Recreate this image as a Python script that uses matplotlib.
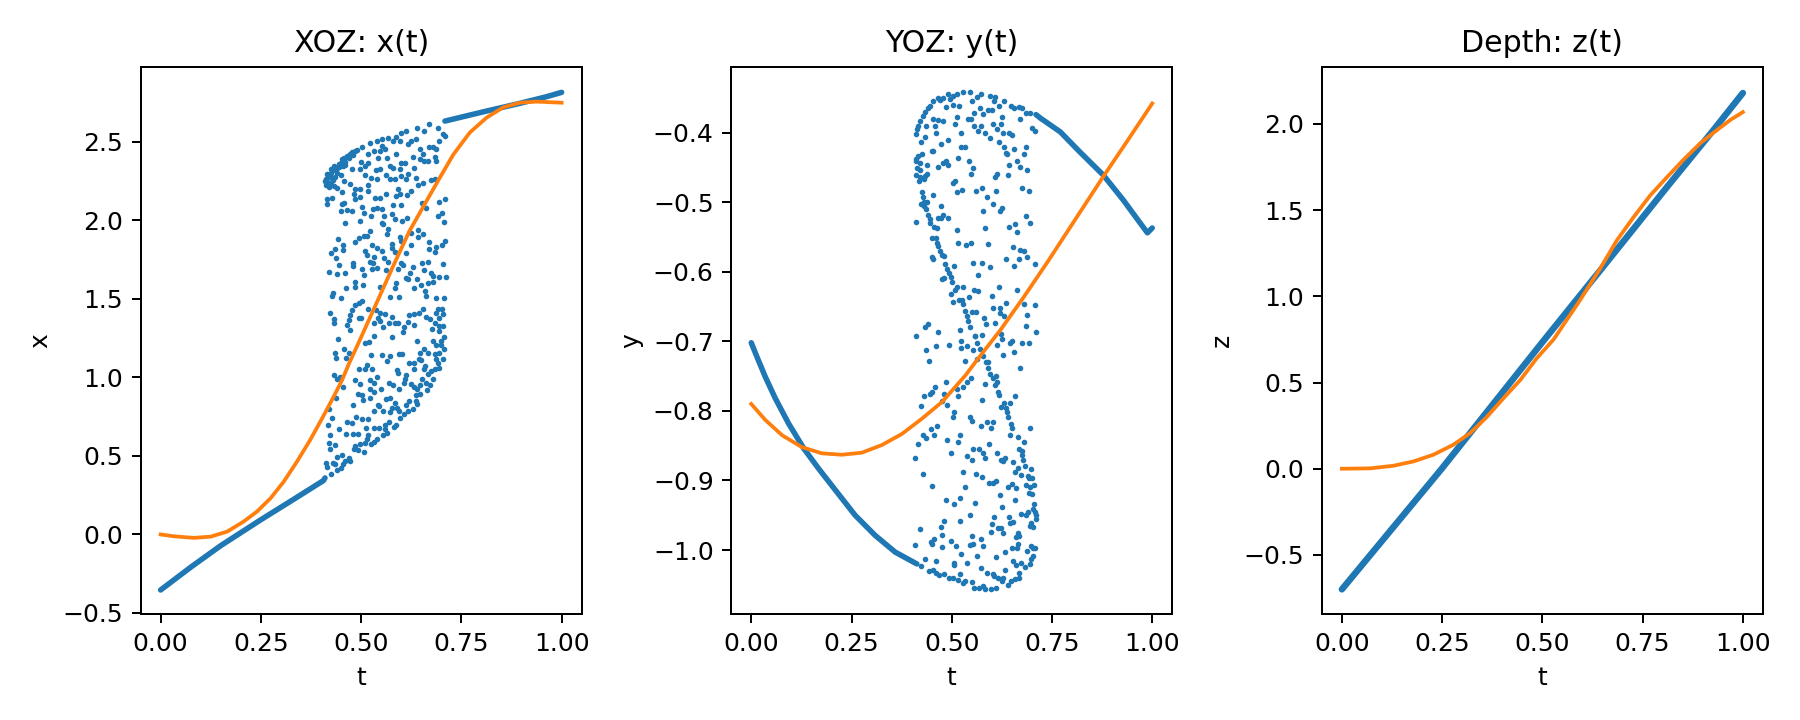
import matplotlib
matplotlib.use('Agg')
import matplotlib.pyplot as plt

# scattered part of the x(t) panel as (t, x)
xoz_pts = [
(.412,2.261),(.416,2.293),(.424,2.325),(.432,2.346),(.444,2.357),(.453,2.389),(.465,2.410),(.477,2.436),(.485,2.442),
(.502,2.467),(.522,2.495),(.539,2.506),(.551,2.520),(.568,2.527),(.588,2.533),(.600,2.559),(.613,2.569),(.639,2.591),
(.658,2.569),(.670,2.612),(.691,2.591),(.703,2.548),(.710,2.537),(.695,2.506),(.637,2.520),(.625,2.506),(.617,2.484),
(.596,2.506),(.580,2.506),(.551,2.474),(.547,2.442),(.559,2.453),(.531,2.442),(.518,2.421),(.473,2.421),(.457,2.399),
(.449,2.368),(.440,2.336),(.428,2.272),(.420,2.240),(.432,2.219),(.440,2.208),(.414,2.134),(.416,2.102),(.428,2.145),
(.453,2.181),(.473,2.230),(.485,2.198),(.498,2.202),(.518,2.223),(.518,2.187),(.481,2.166),(.498,2.149),(.485,2.138),
(.457,2.113),(.453,2.102),(.449,2.060),(.465,2.066),(.477,2.060),(.461,1.981),(.502,2.087),(.506,2.045),(.524,2.028),
(.529,2.075),(.540,2.081),(.551,2.070),(.547,2.140),(.563,2.170),(.535,2.145),(.588,2.155),(.596,2.170),(.592,2.198),
(.614,2.160),(.625,2.187),(.641,2.223),(.654,2.236),(.674,2.255),(.685,2.261),(.580,2.100),(.600,2.100),(.652,2.109),
(.662,2.081),(.695,2.119),(.710,2.138),(.691,2.028),(.701,2.045),(.706,1.992),(.496,1.998),(.557,2.028),(.576,2.039),
(.584,2.011),(.603,1.996),(.614,2.017),(.551,1.981),(.555,1.975),(.568,1.943),(.521,1.932),(.565,1.911),(.506,1.901),
(.514,1.901),(.494,1.890),(.485,1.864),(.442,1.884),(.435,1.820),(.454,1.841),(.454,1.811),(.425,1.794),(.437,1.763),
(.444,1.714),(.420,1.673),(.439,1.661),(.459,1.667),(.480,1.731),(.480,1.710),(.527,1.841),(.539,1.826),(.551,1.805),
(.510,1.805),(.514,1.777),(.531,1.769),(.522,1.737),(.529,1.731),(.557,1.763),(.568,1.737),(.539,1.699),(.527,1.688),
(.502,1.693),(.506,1.650),(.485,1.608),(.485,1.578),(.504,1.586),(.462,1.571),(.430,1.540),(.428,1.518),(.451,1.504),
(.576,1.847),(.578,1.826),(.584,1.799),(.596,1.896),(.599,1.869),(.625,1.841),(.611,1.790),(.625,1.922),(.641,1.939),
(.641,1.896),(.655,1.911),(.670,1.865),(.669,1.816),(.687,1.833),(.683,1.799),(.701,1.841),(.710,1.869),(.703,1.720),
(.666,1.737),(.652,1.731),(.629,1.705),(.658,1.682),(.621,1.663),(.600,1.731),(.605,1.714),(.592,1.688),(.563,1.682),
(.613,1.635),(.617,1.625),(.639,1.625),(.674,1.663),(.678,1.646),(.678,1.608),(.695,1.642),(.711,1.642),(.666,1.599),
(.650,1.586),(.631,1.567),(.588,1.603),(.584,1.571),(.547,1.578),(.572,1.514),(.595,1.512),(.660,1.550),(.662,1.518),
(.687,1.504),(.707,1.504),(.547,2.325),(.537,2.321),(.572,2.346),(.580,2.336),(.596,2.325),(.600,2.368),(.609,2.368),
(.629,2.406),(.633,2.336),(.655,2.421),(.647,2.393),(.658,2.378),(.666,2.378),(.685,2.406),(.687,2.378),(.646,2.457),
(.670,2.470),(.678,2.470),(.687,2.453),(.543,2.399),(.565,2.399),(.588,2.425),(.499,2.374),(.518,2.368),(.510,2.346),
(.498,2.325),(.477,2.325),(.461,2.351),(.449,2.287),(.457,2.251),(.510,2.287),(.524,2.272),(.540,2.261),(.561,2.287),
(.572,2.266),(.584,2.261),(.600,2.283),(.611,2.261),(.617,2.293),(.637,2.268),
(.410,2.250),(.414,2.270),(.418,2.240),(.422,2.275),(.426,2.300),(.430,2.255),(.420,2.210),(.412,2.225),(.436,2.320),
(.445,2.340),(.455,2.350),(.460,2.375),(.470,2.395),(.480,2.420),(.490,2.450),(.440,2.300),(.425,2.230),(.436,2.275),
(.422,1.412),(.432,1.374),(.432,1.344),(.465,1.331),(.472,1.300),(.469,1.363),(.473,1.395),(.477,1.429),(.485,1.459),
(.494,1.476),(.502,1.486),(.494,1.380),(.499,1.380),(.516,1.438),(.537,1.429),(.547,1.412),(.559,1.401),(.543,1.380),
(.547,1.359),(.531,1.348),(.555,1.323),(.570,1.348),(.578,1.387),(.584,1.344),(.592,1.344),(.617,1.353),(.607,1.323),
(.605,1.291),(.632,1.331),(.619,1.395),(.633,1.401),(.644,1.408),(.654,1.438),(.662,1.387),(.672,1.370),(.687,1.412),
(.691,1.433),(.701,1.438),(.705,1.401),(.695,1.380),(.683,1.344),(.677,1.310),(.695,1.327),(.705,1.327),(.695,1.295),
(.707,1.259),(.699,1.232),(.678,1.232),(.639,1.232),(.576,1.259),(.532,1.263),(.520,1.225),(.510,1.217),(.442,1.242),
(.457,1.183),(.469,1.157),(.435,1.157),(.437,1.125),(.462,1.125),(.525,1.145),(.553,1.145),(.573,1.136),(.565,1.106),
(.594,1.147),(.603,1.151),(.619,1.094),(.633,1.094),(.647,1.157),(.656,1.183),(.666,1.157),(.644,1.119),(.650,1.111),
(.683,1.147),(.693,1.157),(.707,1.183),(.687,1.204),(.699,1.204),(.703,1.119),(.687,1.119),(.691,1.094),(.660,1.072),
(.658,1.051),(.632,1.051),(.494,1.055),(.510,1.051),(.514,1.077),(.528,1.055),(.590,1.045),(.592,1.026),(.613,1.013),
(.609,.992),(.607,.966),(.666,1.019),(.674,1.041),(.693,1.058),(.683,1.051),(.678,.992),(.652,.992),(.662,.966),
(.432,1.017),(.447,1.004),(.439,.987),(.485,.981),(.496,.956),(.522,.981),(.531,.966),(.539,1.004),(.570,.966),
(.580,.949),(.454,.941),(.521,.924),(.532,.907),(.550,.928),(.595,.924),(.625,.956),(.633,.941),(.639,.924),
(.646,.949),(.672,.949),(.664,.920),(.647,.892),(.637,.886),(.491,.892),(.502,.890),(.504,.856),(.523,.871),
(.437,.871),(.479,.826),(.561,.860),(.572,.866),(.584,.835),(.590,.807),(.576,.807),(.637,.849),(.639,.828),
(.619,.849),(.613,.822),(.543,.822),(.545,.818),(.532,.786),(.555,.786),(.573,.782),(.594,.786),(.629,.801),
(.617,.786),(.606,.765),(.596,.743),(.420,.801),(.427,.743),(.417,.699),(.488,.750),(.477,.712),(.465,.718),
(.502,.737),(.516,.733),(.444,.669),(.462,.641),(.479,.637),(.491,.637),(.511,.680),(.532,.680),(.545,.675),
(.559,.694),(.570,.716),(.559,.669),(.588,.699),(.582,.686),(.565,.648),(.555,.631),(.422,.631),(.420,.584),
(.435,.571),(.422,.546),(.518,.631),(.514,.605),(.540,.605),(.531,.588),(.524,.574),(.510,.580),(.496,.578),
(.485,.563),(.481,.542),(.491,.537),(.506,.527),(.440,.495),(.453,.503),(.469,.489),(.461,.467),(.473,.467),
(.412,.457),(.414,.431),(.430,.452),(.434,.446),(.455,.446),(.449,.425),(.439,.408),(.425,.387),
]
# dense runs of x(t) at both ends
xoz_low_t = [0, .075, .149, .249, .332, .406, .41]
xoz_low_x = [-.354, -.209, -.073, .092, .224, .343, .36]
xoz_high_t = [.709, .813, .896, .962, 1.0]
xoz_high_x = [2.633, 2.697, 2.746, 2.788, 2.816]
# orange curve of x(t)
xoz_fit_t = [0, .033, .083, .125, .166, .207, .240, .274, .307, .340, .373, .406, .431, .452, .47, .49, .543, .58, .62, .66, .693, .73, .771, .813, .854, .896, .937, 1.0]
xoz_fit_x = [0, -.012, -.022, -.014, .018, .082, .145, .230, .336, .464, .602, .755, .875, .98, 1.09, 1.20, 1.50, 1.71, 1.93, 2.11, 2.258, 2.42, 2.56, 2.655, 2.72, 2.75, 2.757, 2.75]

# scattered part of the y(t) panel as (t, y)
yoz_pts = [
(.412,-.402),(.414,-.395),(.421,-.383),(.429,-.376),(.433,-.370),(.441,-.365),(.446,-.362),(.454,-.354),(.466,-.350),
(.470,-.353),(.479,-.350),(.491,-.344),(.495,-.351),(.504,-.347),(.514,-.344),(.529,-.342),(.546,-.341),(.551,-.355),
(.562,-.348),(.573,-.345),(.596,-.347),(.608,-.348),(.606,-.355),(.630,-.354),(.618,-.361),(.648,-.361),(.655,-.365),
(.668,-.363),(.675,-.365),(.686,-.371),(.694,-.371),(.670,-.380),(.700,-.393),(.708,-.398),(.485,-.363),(.504,-.360),
(.519,-.361),(.571,-.364),(.556,-.371),(.578,-.373),(.591,-.368),(.601,-.367),(.625,-.377),(.603,-.387),(.623,-.387),
(.613,-.394),(.628,-.401),(.643,-.400),(.650,-.404),(.596,-.408),(.583,-.400),(.566,-.398),(.573,-.391),(.556,-.390),
(.549,-.381),(.541,-.381),(.514,-.377),(.509,-.387),(.524,-.401),(.479,-.383),(.466,-.382),(.454,-.381),(.459,-.391),
(.437,-.390),(.417,-.391),(.434,-.406),(.461,-.401),(.424,-.414),(.474,-.416),(.491,-.411),(.450,-.426),(.454,-.426),
(.524,-.421),(.533,-.421),(.618,-.414),(.630,-.420),(.655,-.423),(.685,-.420),(.680,-.431),(.635,-.429),(.638,-.431),
(.663,-.441),(.643,-.446),(.670,-.449),(.688,-.453),(.640,-.461),(.613,-.460),(.608,-.464),(.426,-.431),(.417,-.434),
(.410,-.438),(.412,-.440),(.422,-.444),(.439,-.447),(.466,-.450),(.479,-.444),(.486,-.440),(.491,-.446),(.516,-.437),
(.543,-.441),(.553,-.451),(.548,-.460),(.414,-.451),(.422,-.453),(.412,-.461),(.421,-.464),(.419,-.469),(.431,-.466),
(.439,-.459),(.433,-.462),(.509,-.469),(.504,-.473),(.526,-.482),(.514,-.486),(.561,-.484),(.576,-.480),(.611,-.484),
(.588,-.493),(.603,-.502),(.675,-.479),(.693,-.484),(.625,-.509),(.620,-.512),(.578,-.513),(.474,-.506),(.454,-.490),
(.427,-.486),(.429,-.493),(.431,-.499),(.439,-.499),(.423,-.503),(.431,-.506),(.437,-.510),(.441,-.518),(.446,-.524),
(.447,-.530),(.456,-.535),(.464,-.537),(.466,-.522),(.479,-.519),(.491,-.523),(.474,-.523),(.412,-.529),(.514,-.540),
(.583,-.537),(.643,-.536),(.658,-.532),(.663,-.543),(.685,-.520),(.695,-.530),(.450,-.552),(.461,-.552),(.463,-.558),
(.466,-.563),(.470,-.570),(.475,-.576),(.481,-.577),(.451,-.579),(.454,-.581),(.516,-.558),(.536,-.562),(.548,-.559),
(.591,-.560),(.653,-.565),(.670,-.569),(.680,-.570),(.688,-.579),(.668,-.582),(.635,-.582),(.655,-.591),(.708,-.589),
(.553,-.588),(.576,-.588),(.596,-.593),(.506,-.591),(.484,-.589),(.487,-.596),(.492,-.602),(.497,-.608),(.501,-.615),
(.475,-.611),(.481,-.609),(.566,-.605),(.514,-.622),(.529,-.622),(.499,-.632),(.509,-.626),(.556,-.626),(.566,-.628),
(.618,-.622),(.663,-.626),(.601,-.635),(.543,-.636),(.519,-.640),(.525,-.641),(.504,-.644),(.529,-.647),(.533,-.656),
(.537,-.663),(.541,-.671),(.545,-.679),(.551,-.658),(.561,-.658),(.603,-.652),(.620,-.652),(.635,-.645),(.620,-.659),
(.630,-.664),(.680,-.646),(.708,-.648),(.688,-.662),(.581,-.667),(.586,-.675),(.608,-.674),(.685,-.678),(.441,-.675),
(.434,-.679),(.521,-.684),(.466,-.687),(.412,-.692),(.710,-.687),(.576,-.691),(.558,-.692),(.623,-.690),
(.558,-.693),(.563,-.702),(.570,-.711),(.578,-.721),(.585,-.730),(.591,-.739),(.596,-.747),(.603,-.753),(.591,-.730),
(.611,-.750),(.613,-.758),(.608,-.763),(.583,-.761),(.616,-.773),(.619,-.777),(.658,-.778),(.630,-.788),(.645,-.789),
(.624,-.795),(.635,-.796),(.638,-.802),(.640,-.809),(.648,-.819),(.650,-.824),(.695,-.824),(.645,-.835),(.665,-.838),
(.680,-.844),(.668,-.855),(.675,-.857),(.674,-.863),(.678,-.870),(.682,-.879),(.698,-.884),(.653,-.874),(.665,-.882),
(.657,-.888),(.673,-.892),(.690,-.893),(.693,-.896),(.700,-.897),(.650,-.905),(.640,-.910),(.660,-.911),(.685,-.906),
(.695,-.910),(.705,-.906),(.693,-.918),(.700,-.920),(.658,-.928),(.620,-.921),(.625,-.938),(.705,-.934),(.703,-.941),
(.707,-.945),(.710,-.950),(.710,-.956),(.690,-.946),(.673,-.948),(.684,-.950),(.643,-.953),(.653,-.960),(.645,-.961),
(.606,-.953),(.601,-.963),(.698,-.961),(.695,-.966),(.703,-.967),(.598,-.974),(.616,-.969),(.622,-.969),(.628,-.976),
(.665,-.975),(.668,-.980),(.660,-.981),(.546,-.950),(.521,-.958),(.481,-.958),(.474,-.967),(.422,-.970),(.476,-.979),
(.456,-.984),(.449,-.988),(.451,-.991),(.499,-.987),(.551,-.980),(.573,-.984),(.553,-.991),(.546,-.993),(.578,-.994),
(.511,-.994),(.476,-.996),(.409,-.993),(.665,-.991),(.650,-.997),(.663,-.997),(.698,-.994),(.703,-.997),(.708,-.997),
(.688,-1.001),(.633,-1.003),(.524,-1.006),(.563,-1.009),(.611,-1.010),(.703,-1.009),(.698,-1.013),(.434,-1.013),
(.461,-1.016),(.506,-1.019),(.506,-1.022),(.538,-1.019),(.653,-1.016),(.660,-1.022),(.673,-1.019),(.694,-1.020),
(.683,-1.024),(.424,-1.023),(.573,-1.026),(.633,-1.029),(.444,-1.030),(.454,-1.029),(.461,-1.033),(.469,-1.036),
(.481,-1.034),(.521,-1.034),(.588,-1.033),(.603,-1.034),(.606,-1.037),(.616,-1.040),(.628,-1.040),(.668,-1.033),
(.668,-1.040),(.658,-1.041),(.494,-1.040),(.504,-1.040),(.516,-1.043),(.533,-1.044),(.529,-1.047),(.551,-1.046),
(.625,-1.044),(.648,-1.044),(.640,-1.050),(.556,-1.055),(.568,-1.055),(.578,-1.052),(.583,-1.056),(.598,-1.056),
(.611,-1.055),(.489,-.791),(.516,-.779),(.529,-.765),(.512,-.769),(.538,-.758),(.548,-.753),(.486,-.759),(.459,-.766),
(.451,-.773),(.446,-.775),(.432,-.778),(.481,-.776),(.476,-.786),(.424,-.793),(.576,-.785),(.506,-.802),(.504,-.809),
(.546,-.809),(.551,-.815),(.573,-.821),(.588,-.816),(.603,-.816),(.598,-.824),(.464,-.822),(.449,-.826),(.429,-.834),
(.456,-.834),(.436,-.839),(.417,-.847),(.521,-.835),(.516,-.845),(.489,-.842),(.593,-.847),(.553,-.855),(.568,-.855),
(.578,-.861),(.583,-.867),(.613,-.861),(.633,-.867),(.623,-.871),(.628,-.872),(.538,-.865),(.551,-.871),(.499,-.861),
(.409,-.868),(.429,-.891),(.529,-.888),(.561,-.891),(.576,-.895),(.593,-.904),(.603,-.903),(.611,-.901),(.533,-.910),
(.451,-.908),(.521,-.925),(.486,-.928),(.506,-.934),(.558,-.933),(.436,-.712),(.444,-.728),(.461,-.707),(.494,-.705),
(.524,-.700),(.524,-.710),(.538,-.707),(.553,-.713),(.533,-.728),(.563,-.726),(.613,-.705),(.625,-.697),(.645,-.702),
(.650,-.700),(.675,-.702),(.693,-.703),(.628,-.719),(.655,-.716),(.670,-.739),
]
yoz_low_t = [0, .014, .035, .060, .093, .131, .168, .210, .259, .309, .359, .413]
yoz_low_y = [-.702, -.722, -.751, -.782, -.818, -.854, -.883, -.914, -.950, -.979, -1.003, -1.020]
yoz_high_t = [.71, .721, .771, .82, .878, .928, .97, .988, 1.0]
yoz_high_y = [-.374, -.379, -.399, -.428, -.461, -.497, -.53, -.544, -.537]
yoz_fit_t = [0, .035, .077, .126, .176, .226, .276, .326, .376, .426, .476, .534, .564, .621, .68, .741, .81, .878, .94, 1.0]
yoz_fit_y = [-.790, -.813, -.835, -.852, -.861, -.863, -.860, -.849, -.833, -.811, -.787, -.749, -.726, -.684, -.636, -.584, -.523, -.463, -.41, -.358]

# z(t) is one straight run of points
depth_t = [0, .249, .502, .644, .811, .926, 1.0]
depth_z = [-.70, 0, .74, 1.15, 1.635, 1.963, 2.18]
depth_fit_t = [0, .07, .128, .178, .228, .278, .32, .361, .403, .445, .486, .528, .594, .644, .686, .728, .769, .811, .852, .894, .936, .969, 1.0]
depth_fit_z = [0, .002, .017, .042, .081, .139, .207, .299, .409, .515, .641, .75, .978, 1.161, 1.326, 1.461, 1.586, 1.692, 1.793, 1.889, 1.966, 2.024, 2.069]

fig, axes = plt.subplots(1, 3, figsize=(10, 4), dpi=180)
fig.subplots_adjust(left=.0781, right=.9794, bottom=.1472, top=.9075, wspace=.339)

ax = axes[0]
t_vals, x_vals = zip(*xoz_pts)
ax.scatter(t_vals, x_vals, s=1.5, color='C0')
ax.plot(xoz_low_t, xoz_low_x, color='C0', lw=2.2, solid_capstyle='round')
ax.plot(xoz_high_t, xoz_high_x, color='C0', lw=2.2, solid_capstyle='round')
ax.plot(xoz_fit_t, xoz_fit_x, color='C1')
ax.set_title('XOZ: x(t)')
ax.set_xlabel('t')
ax.set_ylabel('x')
ax.set_ylim(-.507, 2.98)

ax = axes[1]
t_vals, y_vals = zip(*yoz_pts)
ax.scatter(t_vals, y_vals, s=1.5, color='C0')
ax.plot(yoz_low_t, yoz_low_y, color='C0', lw=2.2, solid_capstyle='round')
ax.plot(yoz_high_t, yoz_high_y, color='C0', lw=2.2, solid_capstyle='round')
ax.plot(yoz_fit_t, yoz_fit_y, color='C1')
ax.set_title('YOZ: y(t)')
ax.set_xlabel('t')
ax.set_ylabel('y')
ax.set_ylim(-1.092, -.305)

ax = axes[2]
ax.plot(depth_t, depth_z, color='C0', lw=2.6, solid_capstyle='round')
ax.plot(depth_fit_t, depth_fit_z, color='C1')
ax.set_title('Depth: z(t)')
ax.set_xlabel('t')
ax.set_ylabel('z')
ax.set_ylim(-.843, 2.333)

for ax in axes:
    ax.set_xlim(-.05, 1.05)
    ax.set_xticks([0, .25, .5, .75, 1.0])

plt.savefig('out.png')
